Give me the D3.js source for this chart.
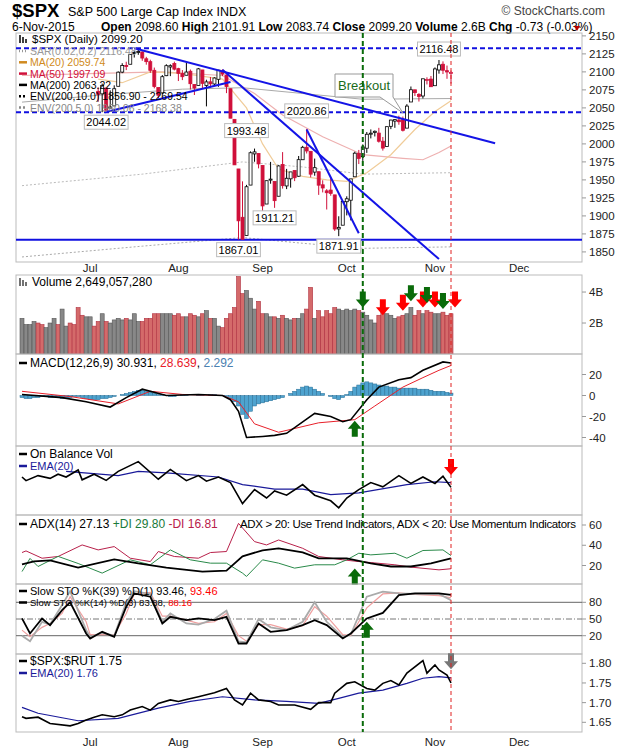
<!DOCTYPE html>
<html><head><meta charset="utf-8">
<script src="https://cdn.jsdelivr.net/npm/d3@7"></script>
<style>body{margin:0;background:#fff}svg{font-family:"Liberation Sans",Arial,sans-serif}</style>
</head><body><svg id="c" width="620" height="750"></svg>
<script>
// trading days Jun 8 2015 .. Nov 6 2015 (index 0..107)
const dates = ["6-8","6-9","6-10","6-11","6-12","6-15","6-16","6-17","6-18","6-19","6-22","6-23","6-24","6-25","6-26","6-29","6-30",
"7-1","7-2","7-6","7-7","7-8","7-9","7-10","7-13","7-14","7-15","7-16","7-17","7-20","7-21","7-22","7-23","7-24","7-27","7-28","7-29","7-30","7-31",
"8-3","8-4","8-5","8-6","8-7","8-10","8-11","8-12","8-13","8-14","8-17","8-18","8-19","8-20","8-21","8-24","8-25","8-26","8-27","8-28","8-31",
"9-1","9-2","9-3","9-4","9-8","9-9","9-10","9-11","9-14","9-15","9-16","9-17","9-18","9-21","9-22","9-23","9-24","9-25","9-28","9-29","9-30",
"10-1","10-2","10-5","10-6","10-7","10-8","10-9","10-12","10-13","10-14","10-15","10-16","10-19","10-20","10-21","10-22","10-23","10-26","10-27","10-28","10-29","10-30",
"11-2","11-3","11-4","11-5","11-6"];
const opens = [2092.3,2079.1,2081.1,2106.2,2107.4,2091.3,2084.3,2097.4,2101.6,2121.1,2112.5,2123.2,2123.7,2109.7,2102.6,2098.6,2061.2,
2067.0,2078.0,2073.0,2069.5,2077.7,2049.7,2052.7,2080.0,2099.7,2109.0,2110.6,2126.8,2126.9,2127.6,2118.2,2114.2,2102.2,2078.2,2070.8,2094.7,2106.8,2111.6,
2104.5,2097.7,2095.3,2100.9,2082.6,2081.0,2102.7,2081.1,2086.2,2083.2,2089.7,2101.5,2095.7,2076.6,2034.1,1965.2,1898.1,1872.8,1942.8,1986.1,1986.7,
1970.1,1916.5,1950.8,1947.8,1927.3,1971.5,1941.6,1951.5,1963.1,1955.1,1978.0,1995.3,1989.7,1960.8,1961.4,1943.2,1934.8,1935.9,1929.2,1881.9,1887.1,
1919.7,1921.8,1954.3,1986.6,1982.3,1994.0,2013.7,2015.7,2015.0,2003.7,1996.5,2024.4,2031.7,2033.1,2033.5,2021.9,2058.2,2075.1,2068.8,2066.5,2088.4,2090.0,
2080.8,2102.6,2110.6,2101.7,2098.6];
const highs = [2093.0,2085.6,2108.5,2115.0,2107.4,2091.3,2097.4,2106.8,2126.7,2121.6,2129.9,2128.0,2125.1,2116.0,2108.9,2098.6,2071.4,
2082.8,2085.1,2078.6,2083.7,2077.7,2074.3,2081.3,2100.7,2112.0,2114.1,2124.4,2128.9,2132.8,2128.5,2120.9,2116.9,2106.0,2078.2,2095.6,2110.6,2110.5,2114.2,
2105.7,2102.5,2112.7,2103.3,2082.6,2105.4,2102.7,2089.1,2092.9,2092.5,2102.9,2103.5,2096.2,2076.6,2034.1,1965.2,1948.0,1943.1,1989.6,1993.5,1986.7,
1970.1,1948.9,1975.0,1947.8,1970.4,1988.6,1965.3,1961.1,1963.1,1983.2,1997.3,2020.9,1989.7,1979.6,1961.4,1949.5,1937.2,1952.9,1929.2,1899.5,1920.5,
1927.2,1951.4,1989.2,1991.6,1999.3,2016.5,2020.1,2018.7,2022.3,2009.6,2024.2,2033.5,2034.5,2039.1,2038.0,2055.2,2079.7,2075.1,2070.4,2090.4,2092.5,2094.3,
2106.2,2116.5,2114.6,2108.8,2101.9];
const lows = [2079.1,2072.1,2081.1,2106.2,2091.3,2072.5,2082.1,2088.9,2101.6,2109.5,2112.5,2119.9,2108.6,2101.8,2098.0,2056.6,2056.3,
2066.8,2071.0,2058.4,2044.0,2044.7,2049.7,2052.7,2080.0,2098.2,2102.5,2110.6,2119.9,2123.7,2115.4,2110.0,2098.6,2077.1,2063.5,2069.1,2094.1,2094.1,2102.1,
2087.3,2088.6,2095.3,2075.5,2067.9,2081.0,2076.5,2052.1,2078.3,2080.6,2079.3,2094.1,2070.5,2035.7,1970.9,1867.0,1867.1,1872.8,1942.8,1975.2,1966.0,
1903.1,1916.5,1944.7,1911.2,1927.3,1937.9,1937.2,1939.2,1948.3,1954.3,1977.9,1986.7,1953.5,1955.8,1929.2,1932.6,1908.9,1928.0,1879.2,1871.9,1887.1,
1900.7,1893.7,1954.3,1972.0,1976.4,1987.5,2007.6,2010.3,2001.8,1990.7,1996.5,2020.5,2022.3,2026.6,2017.2,2021.9,2058.2,2066.5,2058.8,2063.1,2082.6,2079.3,
2080.8,2097.5,2097.0,2090.4,2083.7];
const closes = [2079.3,2080.2,2105.2,2108.9,2094.1,2084.4,2096.3,2100.4,2121.2,2110.0,2122.9,2124.2,2108.6,2102.3,2101.5,2057.6,2063.1,
2077.4,2076.8,2068.8,2081.3,2046.7,2051.3,2076.6,2099.6,2108.9,2107.4,2124.3,2126.6,2128.3,2119.2,2114.2,2102.2,2079.7,2067.6,2093.3,2108.6,2108.6,2103.8,
2098.0,2093.3,2099.8,2083.6,2077.6,2104.2,2084.1,2086.1,2083.4,2091.5,2102.4,2096.9,2079.6,2035.7,1970.9,1893.2,1867.6,1940.5,1987.7,1988.9,1972.2,
1913.9,1948.9,1951.1,1921.2,1969.4,1942.0,1952.3,1961.1,1953.0,1978.1,1995.3,1990.2,1958.0,1967.0,1942.7,1938.8,1932.2,1931.3,1881.8,1884.1,1920.0,
1923.8,1951.4,1987.1,1979.9,1995.8,2013.4,2014.9,2017.5,2003.7,1994.2,2023.9,2033.1,2033.7,2030.8,2018.9,2052.5,2075.2,2071.2,2065.9,2090.4,2089.4,2079.4,
2104.1,2109.8,2102.3,2099.9,2099.2];
const firstCandle = 19; // Jul 6
// volume, billions
const volumes = [2.3,1.9,1.9,2.1,2.0,1.9,1.7,2.0,2.3,1.9,2.9,1.8,2.0,1.9,3.0,2.5,2.4,
2.4,1.8,2.1,2.6,2.1,2.0,2.2,2.3,2.2,2.3,2.2,2.6,2.1,2.1,2.3,2.3,2.6,2.6,2.6,2.6,2.6,2.5,
2.6,2.4,2.4,2.6,2.5,2.4,2.6,2.8,2.3,2.3,1.8,1.7,2.3,2.6,3.0,5.0,3.9,4.1,3.6,2.9,3.4,
2.6,2.6,2.4,2.4,2.3,2.5,2.3,2.2,2.3,2.3,2.6,2.9,4.3,2.3,2.8,2.4,2.8,2.6,3.0,2.9,2.8,
2.9,2.8,2.9,2.8,2.7,2.5,2.2,2.0,2.5,2.7,2.6,2.5,2.3,2.4,2.5,2.6,3.0,2.5,2.8,2.6,2.8,2.7,
2.6,2.6,2.7,2.5,2.6];
// moving averages and envelopes: [day index, value]
const ma20 = [[19,2090],[25,2085],[32,2100],[40,2098],[50,2090],[56,2050],[60,2000],[64,1965],[70,1955],[76,1950],[81,1948],[86,1960],[92,1985],[98,2020],[103,2045],[107,2060]];
const ma50 = [[0,2095],[19,2098],[35,2100],[50,2095],[58,2070],[65,2040],[75,2010],[85,1985],[95,1980],[100,1978],[104,1988],[107,1997]];
const ma200 = [[0,2058],[20,2068],[40,2076],[55,2078],[70,2070],[85,2062],[107,2063]];
const env5 = [[0,1942],[30,1958],[55,1975],[70,1968],[85,1958],[107,1960]];
const env10 = [[0,1843],[30,1858],[55,1870],[70,1862],[85,1855],[107,1857]];
const srLevels = [2132.8, 2044.0];
const supportLevel = 1867.0;
const trendLines = [[[28,2132.8],[118,2001]],[[20.7,2044],[52,2086]],[[50,2103],[104,1840]],[[71,2020],[84,1876]]];
const priceLabels = [[21,2044.02,"2044.02"],[56,1993.48,"1993.48"],[63,1911.21,"1911.21"],[54,1867.01,"1867.01"],[71,2020.86,"2020.86"],[79,1871.91,"1871.91"],[104,2116.48,"2116.48"]];
const priceTicks = [2150,2125,2100,2075,2050,2025,2000,1975,1950,1925,1900,1875,1850];
// MACD
const macd = [[0,1],[10,-2],[16,-6],[22,-11],[26,-2],[30,6],[36,0],[44,1],[50,0],[52,-4],[54,-15],[56,-40],[60,-39],[63,-38],[66,-36],[73,-17],[77,-20],[80,-25],[82,-23],[86,-4],[89,8],[94,15],[97,17],[100,24],[105,32],[107,30.9]];
const macdSignal = [[0,4],[12,-1],[24,-8],[32,4],[40,1],[50,0],[54,-6],[58,-27],[64,-35],[74,-26],[83,-23],[88,-10],[95,8],[100,17],[104,24],[107,28.6]];
const macdHist = [-2,-3,-3,-2,-2,-1,-1,-2,-2,-2,-3,-3,-2,-1,-1,-2,-3,
-4,-4,-4,-3,-3,-2,-1,0,1,2,3,4,5,5,4,3,2,1,1,0,-1,-1,
0,1,1,0,0,1,1,0,1,1,0,0,-1,-3,-6,-10,-18,-22,-15,-10,-8,
-7,-6,-5,-4,-3,-2,0,2,4,6,8,9,8,6,4,2,0,-1,-3,-4,-2,
1,4,8,10,12,13,12,11,10,9,9,8,8,7,7,7,7,7,6,6,6,5,
4,4,4,3,2.3];
// On balance volume (relative units)
const obv = [[0,125],[1,112],[4,130],[7,120],[9,135],[11,125],[14,150],[15,115],[18,135],[21,113],[24,145],[29,180],[34,117],[37,152],[41,112],[44,130],[46,110],[49,125],[52,105],[55,30],[58,80],[61,50],[63,75],[66,60],[70,98],[73,60],[77,40],[79,15],[81,50],[84,80],[87,105],[90,90],[94,130],[97,102],[100,125],[103,102],[105,128],[107,88]];
const obvEma = [[11,145],[24,130],[29,145],[36,140],[49,125],[55,98],[63,82],[70,82],[77,62],[84,68],[96,98],[103,108],[107,105]];
// ADX
const adx = [[0,21],[3,24],[7,25],[14,18],[23,26],[29,22],[36,18],[45,14],[51,15],[55,29],[60,35],[64,37],[70,33],[74,27],[81,27],[87,22],[92,19],[97,19],[102,22],[107,27.1]];
const plusDI = [[0,14],[2,27],[4,19],[9,29],[14,22],[20,12.5],[27,25.6],[32,20.7],[37,35.4],[42,25.6],[47,22.3],[51,22.3],[55,12.5],[56,9.2],[60,25.6],[64,22.3],[68,17.4],[73,20.7],[78,20.7],[81,25.6],[84,32.1],[87,30.5],[93,32.1],[96,27.2],[100,34.8],[105,35.4],[107,29.8]];
const minusDI = [[0,32.8],[1,34.4],[5,27.2],[9,28.9],[15,40.3],[19,35.4],[23,38.7],[27,27.2],[32,23.9],[34,33.8],[38,28.9],[44,27.2],[47,32.8],[51,33.8],[54,61.6],[58,43.6],[61,40.3],[64,45.2],[70,37],[74,28.9],[80,25.6],[84,23.9],[87,22.9],[93,20.7],[97,18.4],[104,15.7],[107,16.8]];
// Stochastics
const stoDays = [0,2,5,7,10,12,16,17,20,23,26,28,32,35,37,41,44,48,51,54,56,59,62,66,70,73,76,80,82,86,90,94,98,104,107];
const stoK39 = [51,24,51,39,66,80,24,15,27,18,72,96,90,42,54,48,51,48,54,6,6,42,27,30,39,48,39,15,24,51,61,93,96,96,93.5];
const stoK14 = [20,10,45,40,75,100,30,18,25,20,80,100,95,45,60,42,40,50,65,10,8,50,35,30,45,80,45,18,22,90,99,96,95,95,83.9];
const stoD3 = [30,18,35,42,60,90,45,22,22,22,60,95,98,55,55,48,42,45,60,20,10,40,40,32,38,72,55,22,20,70,95,97,94,92,88.2];
// $SPX:$RUT
const ratio = [[0,1.664],[1,1.660],[4,1.663],[7,1.647],[12,1.641],[14,1.647],[16,1.656],[18,1.663],[20,1.669],[23,1.664],[25,1.669],[27,1.681],[30,1.690],[32,1.681],[34,1.698],[37,1.707],[39,1.703],[41,1.708],[44,1.715],[48,1.725],[51,1.736],[53,1.707],[55,1.694],[57,1.724],[59,1.707],[62,1.703],[64,1.694],[68,1.694],[72,1.683],[74,1.700],[77,1.700],[78,1.724],[81,1.749],[83,1.753],[86,1.736],[88,1.732],[90,1.749],[92,1.756],[94,1.745],[96,1.775],[100,1.807],[101,1.775],[103,1.796],[104,1.783],[106,1.770],[107,1.750]];
const ratioEma = [[0,1.688],[4,1.673],[14,1.654],[24,1.660],[34,1.686],[42,1.703],[50,1.715],[58,1.707],[66,1.703],[74,1.698],[79,1.711],[84,1.724],[90,1.732],[96,1.749],[100,1.762],[104,1.766],[107,1.763]];
const months = [["Jul",17],["Aug",39],["Sep",60],["Oct",81],["Nov",103],["Dec",124]];
const signalDay = 85, lastDay = 107;

const svg = d3.select("#c");
const L = 16, R = 582;
const x = d3.scaleLinear().domain([0, 107]).range([22, 451]);
const defs = svg.append("defs");

function panel(top, bottom, id) {
  svg.append("rect").attr("x", L).attr("y", top).attr("width", R - L).attr("height", bottom - top)
    .attr("fill", "none").attr("stroke", "#bbb");
  defs.append("clipPath").attr("id", id).append("rect").attr("x", L).attr("y", top).attr("width", R - L).attr("height", bottom - top);
  return svg.append("g").attr("clip-path", `url(#${id})`);
}
function rightTicks(y, ticks, fmt) {
  ticks.forEach(t => {
    svg.append("line").attr("x1", R).attr("x2", R + 4).attr("y1", y(t)).attr("y2", y(t)).attr("stroke", "#999");
    svg.append("text").attr("x", R + 7).attr("y", y(t) + 4).attr("font-size", 11.5).attr("fill", "#222").text(fmt ? fmt(t) : t);
  });
}
function path(g, y, pts, color, w, dash) {
  return g.append("path").datum(pts)
    .attr("d", d3.line().x(d => x(d[0])).y(d => y(d[1])))
    .attr("fill", "none").attr("stroke", color).attr("stroke-width", w).attr("stroke-dasharray", dash || null);
}
function legend(items, x0, y0, dy) {
  items.forEach((it, k) => {
    svg.append("text").attr("x", x0 + 14).attr("y", y0 + k * dy).attr("font-size", it.size || 10.5)
      .attr("fill", it.color).text(it.text);
    svg.append("line").attr("x1", x0 + 3).attr("x2", x0 + 11).attr("y1", y0 + k * dy - 4).attr("y2", y0 + k * dy - 4)
      .attr("stroke", it.mark || it.color).attr("stroke-width", 2.5).attr("stroke-dasharray", it.dash || null);
  });
}
function arrow(g, cx, tipY, color, down) {
  const s = down ? 1 : -1;
  const pts = [[cx - 3, tipY - s * 16], [cx + 3, tipY - s * 16], [cx + 3, tipY - s * 8], [cx + 7, tipY - s * 8], [cx, tipY], [cx - 7, tipY - s * 8], [cx - 3, tipY - s * 8]];
  g.append("polygon").attr("points", pts.map(p => p.join(",")).join(" ")).attr("fill", color);
}
function monthAxis(yText) {
  months.forEach(([m, i]) => {
    svg.append("text").attr("x", x(i)).attr("y", yText).attr("text-anchor", "middle").attr("font-size", 11.5).attr("fill", "#222").text(m);
  });
}

// header
svg.append("text").attr("x", 12).attr("y", 17).attr("font-size", 18.5).attr("font-weight", "bold").text("$SPX");
svg.append("text").attr("x", 68).attr("y", 16).attr("font-size", 12.5).text("S&P 500 Large Cap Index  INDX");
svg.append("text").attr("x", 605).attr("y", 15).attr("text-anchor", "end").attr("font-size", 12).attr("fill", "#444").text("© StockCharts.com");
svg.append("text").attr("x", 12).attr("y", 31).attr("font-size", 12).text("6-Nov-2015");
const hdr = svg.append("text").attr("x", 101).attr("y", 31).attr("font-size", 12);
[["Open ", "2098.60"], ["High ", "2101.91"], ["Low ", "2083.74"], ["Close ", "2099.20"], ["Volume ", "2.6B"], ["Chg ", "-0.73 (-0.03%)"]].forEach(([a, b]) => {
  hdr.append("tspan").attr("font-weight", "bold").text(a);
  hdr.append("tspan").text(b + "  ");
});
svg.append("path").attr("d", "M574,26 l6,0 l-3,5 z").attr("fill", "#b00");

// ---------- price panel
const pTop = 33, pBot = 262;
const yP = d3.scaleLinear().domain([1836, 2154]).range([pBot, pTop]);
const gP = panel(pTop, pBot, "cp");
path(gP, yP, env10, "#aaa", 1, "2,2");
path(gP, yP, env5, "#bbb", 1, "2,2");
path(gP, yP, ma200, "#aaa", 1);
path(gP, yP, ma50, "#eeb0b0", 1.2);
path(gP, yP, ma20, "#f0cc99", 1.2);
srLevels.forEach(v => gP.append("line").attr("x1", L).attr("x2", R).attr("y1", yP(v)).attr("y2", yP(v)).attr("stroke", "#1010e0").attr("stroke-width", 2).attr("stroke-dasharray", "5,3"));
gP.append("line").attr("x1", L).attr("x2", R).attr("y1", yP(supportLevel)).attr("y2", yP(supportLevel)).attr("stroke", "#1010e0").attr("stroke-width", 2);
const candles = d3.range(firstCandle, closes.length);
candles.forEach(i => {
  const up = closes[i] >= closes[i - 1];
  const col = up ? "#000" : "#d0103a";
  const cx = x(i);
  gP.append("line").attr("x1", cx).attr("x2", cx).attr("y1", yP(highs[i])).attr("y2", yP(lows[i])).attr("stroke", col);
  const yt = yP(Math.max(opens[i], closes[i])), yb = yP(Math.min(opens[i], closes[i]));
  gP.append("rect").attr("x", cx - 1.5).attr("y", yt).attr("width", 3).attr("height", Math.max(1, yb - yt))
    .attr("fill", closes[i] > opens[i] ? "#fff" : col).attr("stroke", col).attr("stroke-width", 0.8);
});
trendLines.forEach(t => path(gP, yP, t, "#1414e6", 2));
priceLabels.forEach(([i, v, s]) => {
  const above = s === "1993.48" || s === "2020.86" || s === "2116.48";
  const ty = s === "2116.48" ? yP(v) - 7 : above ? yP(v) - 14 : yP(v) + 14;
  const t = gP.append("text").attr("x", x(i)).attr("y", ty).attr("text-anchor", "middle").attr("font-size", 11).text(s);
  const b = t.node().getBBox();
  gP.insert("rect", "text").attr("x", b.x - 2).attr("y", b.y - 1).attr("width", b.width + 4).attr("height", b.height + 2).attr("fill", "#fff").attr("stroke", "#bbb");
});
// breakout callout
gP.append("path").attr("d", `M335,74 h58 v23 L${x(95)},${yP(2043)} L380,97 h-45 z`).attr("fill", "#fff").attr("stroke", "#999");
gP.append("text").attr("x", 338).attr("y", 90).attr("font-size", 13).attr("fill", "#1a6b1a").text("Breakout");
rightTicks(yP, priceTicks);
// legend
svg.append("text").attr("x", 32).attr("y", 43).attr("font-size", 11.5).text("$SPX (Daily) 2099.20");
svg.append("path").attr("d", "M20,35 v8 M23,37 v6 M26,39 v4").attr("stroke", "#000").attr("stroke-width", 1.5);
legend([
  { text: "SAR(0.02,0.2) 2116.48", color: "#999", mark: "#999", dash: "1,2" },
  { text: "MA(20) 2059.74", color: "#d08a20" },
  { text: "MA(50) 1997.09", color: "#d0103a" },
  { text: "MA(200) 2063.22", color: "#000" },
  { text: "ENV(200,10.0) 1856.90 - 2269.54", color: "#000", dash: "2,2" },
  { text: "ENV(200,5.0) 1960.06 - 2168.38", color: "#888", dash: "2,2" }
], 16, 55, 11.3);
monthAxis(272);

// ---------- volume
const vTop = 275, vBot = 354;
const yV = d3.scaleLinear().domain([0, 5.1]).range([vBot, vTop]);
const gV = panel(vTop, vBot, "cv");
volumes.forEach((v, i) => {
  const down = i > 0 && closes[i] < closes[i - 1];
  gV.append("rect").attr("x", x(i) - 2).attr("y", yV(v)).attr("width", 4).attr("height", vBot - yV(v))
    .attr("fill", down ? "#d46a6a" : "#888").attr("stroke", down ? "#b03040" : "#555").attr("stroke-width", 0.6);
});
rightTicks(yV, [4, 2], t => t + "B");
svg.append("text").attr("x", 32).attr("y", 286).attr("font-size", 12).text("Volume 2,649,057,280");
svg.append("path").attr("d", "M20,278 v8 M23,280 v6 M26,282 v4").attr("stroke", "#444").attr("stroke-width", 1.5);
const volArrows = [[85, 3.0, "#0a6b0a"], [90, 2.5, "red"], [95, 2.8, "red"], [97, 3.4, "#0a6b0a"], [100, 3.0, "red"], [101, 3.3, "#0a6b0a"], [103, 3.0, "red"], [105, 2.9, "#0a6b0a"], [108, 3.0, "red"]];
volArrows.forEach(([i, v, c]) => arrow(svg, x(i), yV(v), c, true));

// ---------- MACD
const mTop = 354, mBot = 446;
const yM = d3.scaleLinear().domain([-40, 20]).range([437.5, 374.5]);
const gM = panel(mTop, mBot, "cm");
macdHist.forEach((h, i) => {
  gM.append("rect").attr("x", x(i) - 2).attr("y", Math.min(yM(0), yM(h))).attr("width", 4).attr("height", Math.abs(yM(h) - yM(0)))
    .attr("fill", "#4ea3cf").attr("stroke", "#2a6f95").attr("stroke-width", 0.5);
});
path(gM, yM, macdSignal, "#e8202a", 1);
path(gM, yM, macd, "#000", 1.6);
rightTicks(yM, [20, 0, -20, -40]);
const mt = svg.append("text").attr("x", 30).attr("y", 367).attr("font-size", 12);
mt.append("tspan").text("MACD(12,26,9) 30.931, ");
mt.append("tspan").attr("fill", "#e8202a").text("28.639");
mt.append("tspan").text(", ");
mt.append("tspan").attr("fill", "#4a80b0").text("2.292");
svg.append("line").attr("x1", 19).attr("x2", 27).attr("y1", 363).attr("y2", 363).attr("stroke", "#000").attr("stroke-width", 2.5);
arrow(svg, x(83), yM(-24), "#0a6b0a", false);

// ---------- OBV
const oTop = 446, oBot = 515;
const yO = d3.scaleLinear().domain([0, 200]).range([oBot - 3, oTop + 10]);
const gO = panel(oTop, oBot, "co");
path(gO, yO, obvEma, "#1a1a9a", 1.2);
path(gO, yO, obv, "#000", 1.6);
legend([{ text: "On Balance Vol", color: "#000", size: 12 }, { text: "EMA(20)", color: "#1a1a9a", size: 11 }], 16, 458, 12);
arrow(svg, x(107), yO(132), "red", true);

// ---------- ADX
const aTop = 515, aBot = 584;
const yA = d3.scaleLinear().domain([20, 60]).range([565.5, 525]);
const gA = panel(aTop, aBot, "ca");
path(gA, yA, minusDI, "#b8204a", 1);
path(gA, yA, plusDI, "#2a8a4a", 1);
path(gA, yA, adx, "#000", 1.8);
rightTicks(yA, [60, 40, 20]);
const at = svg.append("text").attr("x", 30).attr("y", 528).attr("font-size", 12);
at.append("tspan").text("ADX(14) 27.13 ");
at.append("tspan").attr("fill", "#1a7a3a").text("+DI 29.80 ");
at.append("tspan").attr("fill", "#b8204a").text("-DI 16.81");
svg.append("text").attr("x", 240).attr("y", 528).attr("font-size", 11.5).attr("textLength", 336).text("ADX > 20: Use Trend Indicators, ADX < 20: Use Momentum Indicators");
svg.append("line").attr("x1", 19).attr("x2", 27).attr("y1", 524).attr("y2", 524).attr("stroke", "#000").attr("stroke-width", 2.5);
arrow(svg, x(83), yA(19) + 2, "#0a6b0a", false);

// ---------- Slow STO
const sTop = 584, sBot = 654;
const yS = d3.scaleLinear().domain([20, 80]).range([635.7, 602.3]);
const gS = panel(sTop, sBot, "cs");
[80, 20].forEach(v => gS.append("line").attr("x1", L).attr("x2", R).attr("y1", yS(v)).attr("y2", yS(v)).attr("stroke", "#666"));
gS.append("line").attr("x1", L).attr("x2", R).attr("y1", yS(50)).attr("y2", yS(50)).attr("stroke", "#777").attr("stroke-dasharray", "6,2,1,2");
const stoLine = vals => stoDays.map((d, k) => [d, vals[k]]);
path(gS, yS, stoLine(stoD3), "#f0a0a0", 1.2);
path(gS, yS, stoLine(stoK14), "#aaa", 1.8);
path(gS, yS, stoLine(stoK39), "#000", 1.8);
rightTicks(yS, [80, 50, 20]);
const s1 = svg.append("text").attr("x", 30).attr("y", 595).attr("font-size", 11);
s1.append("tspan").text("Slow STO %K(39) %D(1) 93.46, ");
s1.append("tspan").attr("fill", "red").text("93.46");
const s2 = svg.append("text").attr("x", 30).attr("y", 606).attr("font-size", 9.5);
s2.append("tspan").text("Slow STO %K(14) %D(3) 83.88, ");
s2.append("tspan").attr("fill", "red").text("88.16");
[s1, s2].forEach(s => {
  const b = s.node().getBBox();
  svg.insert("rect", "text").attr("x", 17).attr("y", b.y + 1).attr("width", b.width + 14).attr("height", b.height - 2).attr("fill", "#fff");
});
svg.append("line").attr("x1", 19).attr("x2", 27).attr("y1", 591).attr("y2", 591).attr("stroke", "#000").attr("stroke-width", 2.5);
svg.append("line").attr("x1", 19).attr("x2", 27).attr("y1", 602.5).attr("y2", 602.5).attr("stroke", "#000").attr("stroke-width", 2.5);
arrow(svg, x(86), yS(45), "#0a6b0a", false);

// ---------- $SPX:$RUT
const rTop = 654, rBot = 732;
const yR = d3.scaleLinear().domain([1.65, 1.80]).range([722.3, 663.3]);
const gR = panel(rTop, rBot, "cr");
path(gR, yR, ratioEma, "#1a1a9a", 1.2);
path(gR, yR, ratio, "#000", 1.6);
rightTicks(yR, [1.80, 1.75, 1.70, 1.65], d3.format(".2f"));
legend([{ text: "$SPX:$RUT 1.75", color: "#000", size: 12 }, { text: "EMA(20) 1.76", color: "#1a1a9a", size: 11 }], 16, 665, 12);
arrow(svg, x(107), yR(1.785), "#777", true);
monthAxis(746);

// signal lines across all panels
svg.append("line").attr("x1", x(signalDay)).attr("x2", x(signalDay)).attr("y1", pTop).attr("y2", rBot)
  .attr("stroke", "#0a6b0a").attr("stroke-width", 2).attr("stroke-dasharray", "5,3");
svg.append("line").attr("x1", x(lastDay)).attr("x2", x(lastDay)).attr("y1", pTop).attr("y2", rBot)
  .attr("stroke", "#e02020").attr("stroke-width", 1).attr("stroke-dasharray", "4,3");
</script></body></html>
